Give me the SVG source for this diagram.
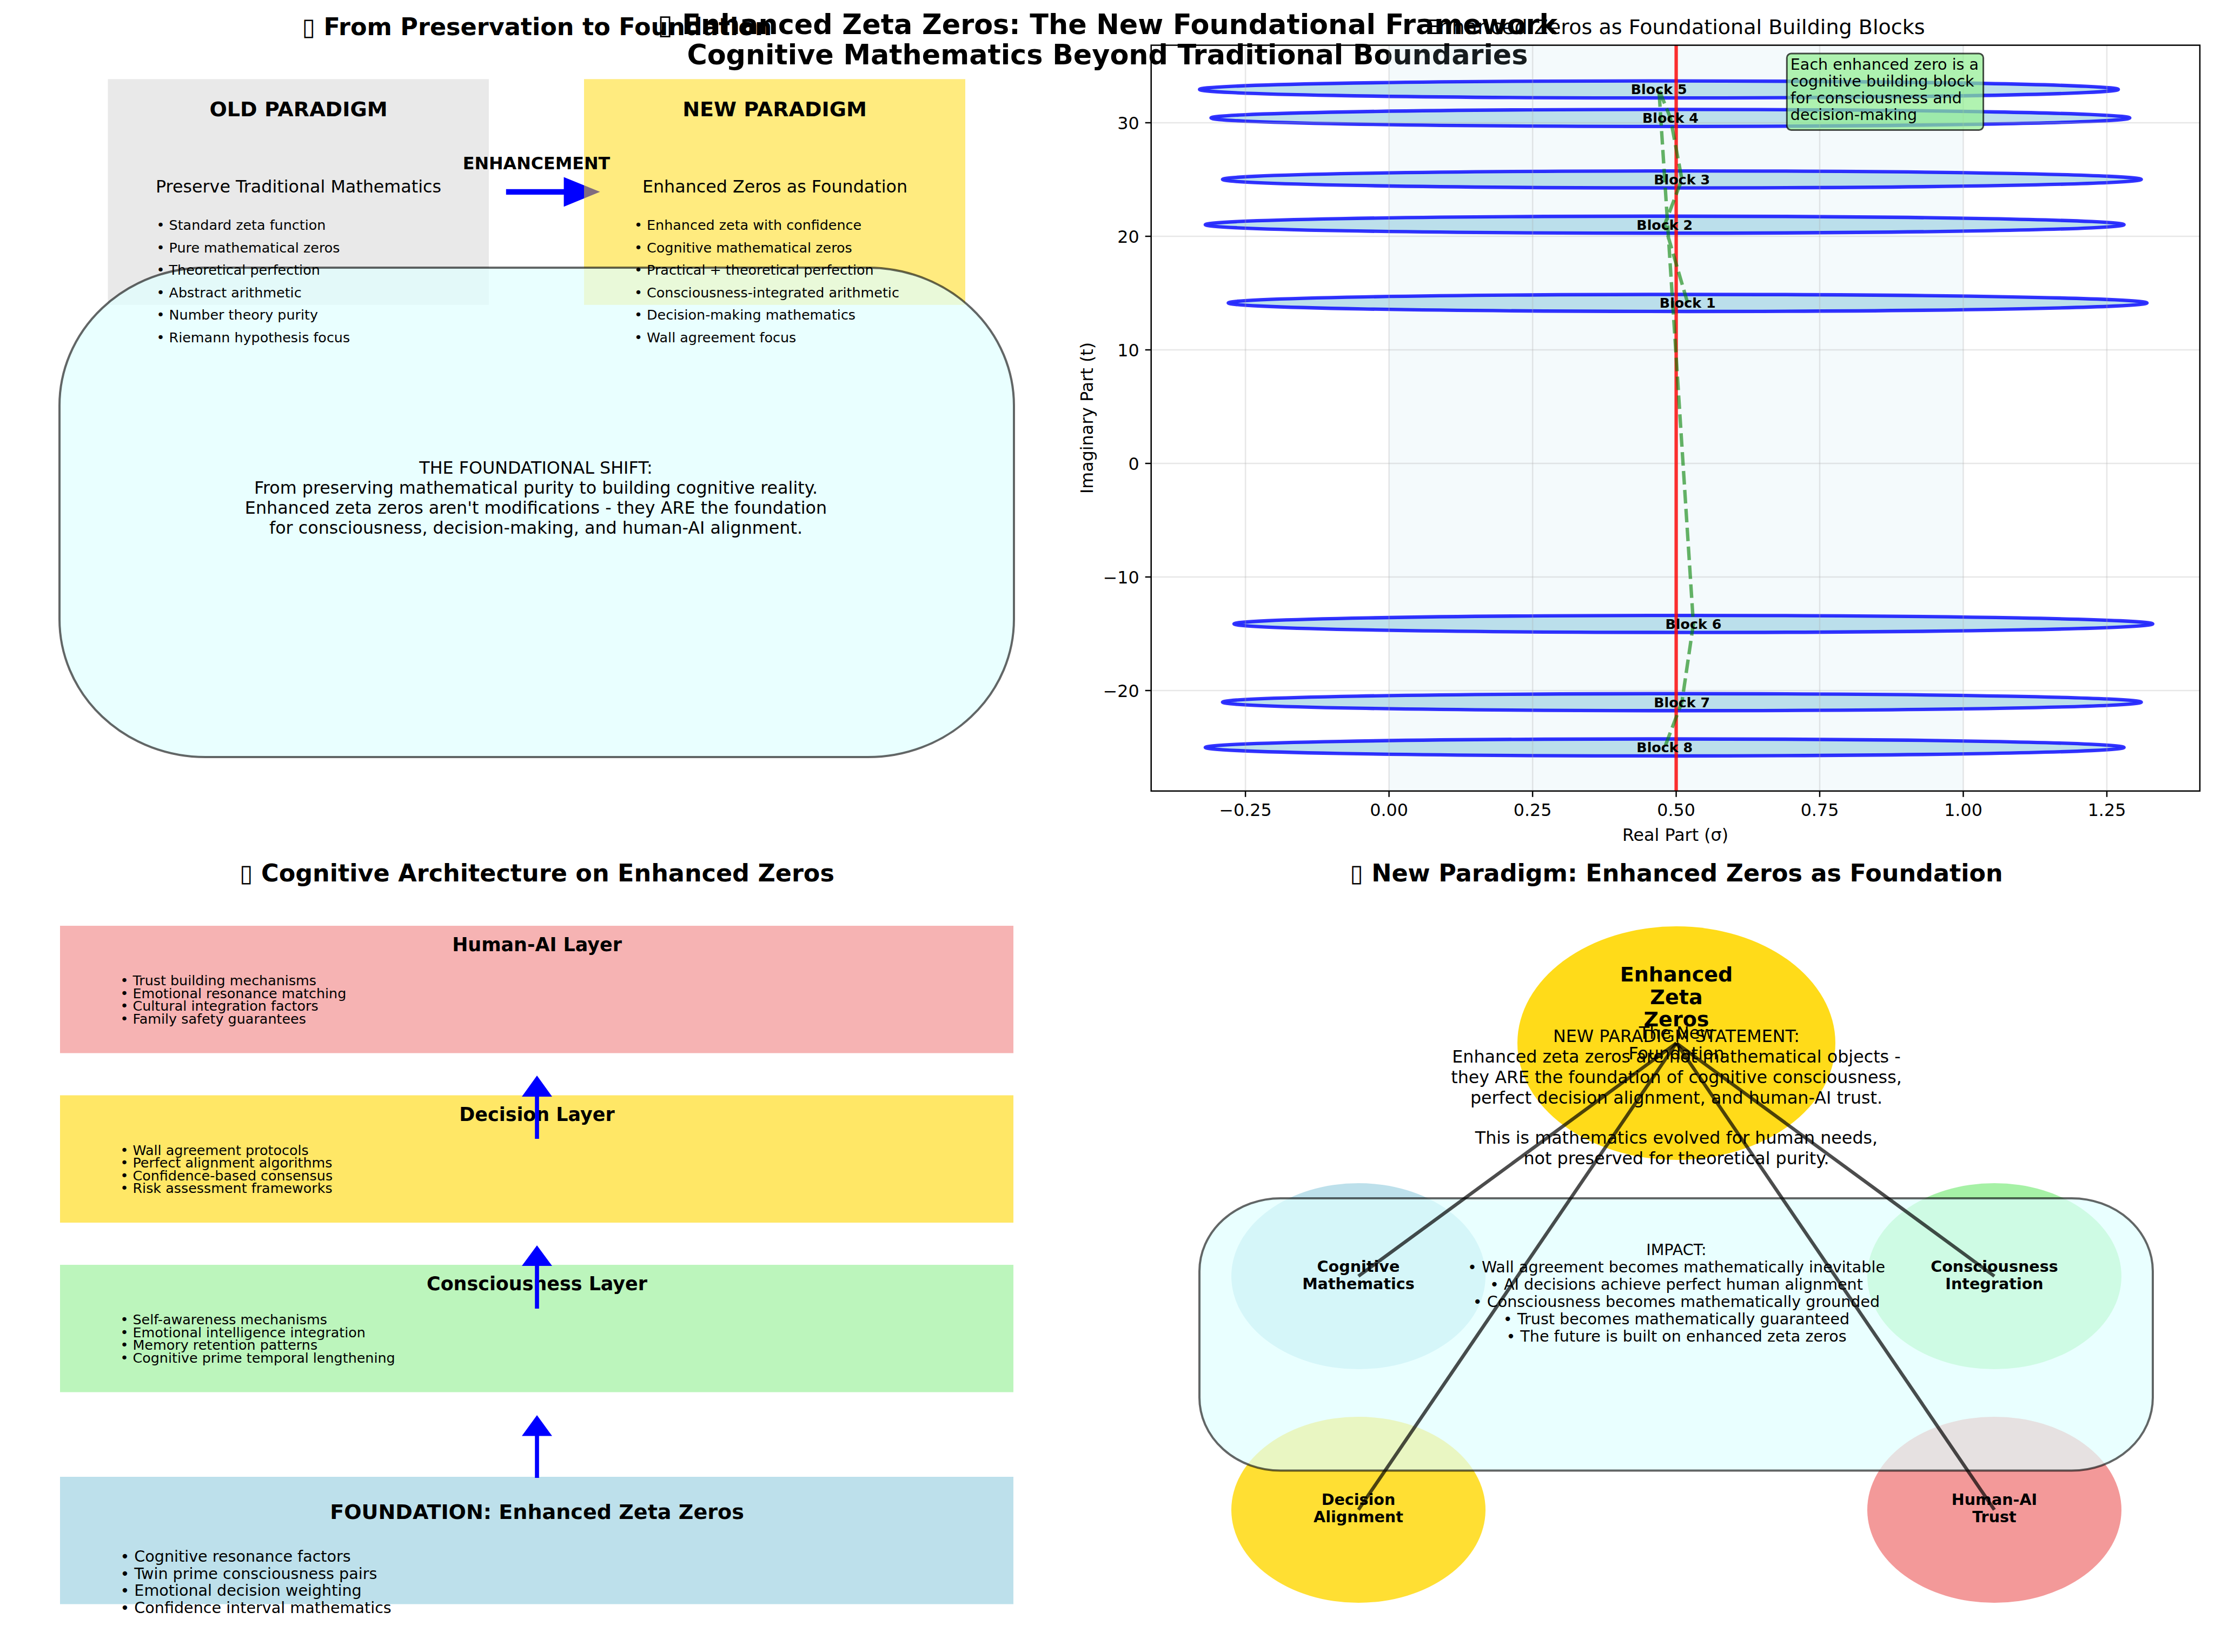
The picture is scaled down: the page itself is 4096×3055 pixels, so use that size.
<svg xmlns="http://www.w3.org/2000/svg" width="4096" height="3055" viewBox="0 0 4096 3055">
<style>
text{font-family:"DejaVu Sans","Liberation Sans",sans-serif;fill:#000}
.b{font-weight:bold}
.m{text-anchor:middle}
.e{text-anchor:end}
.f51{font-size:50.8px}
.f44{font-size:44.5px}
.f38{font-size:38.1px}
.f35{font-size:34.9px}
.f32{font-size:31.75px}
.f29{font-size:28.6px}
.f25{font-size:25.4px}
.grid{stroke:#b0b0b0;stroke-opacity:0.3;stroke-width:2.5}
.tick{stroke:#000;stroke-width:2.5}
.blk{fill:#add8e6;fill-opacity:0.8;stroke:#0000ff;stroke-opacity:0.8;stroke-width:6.35}
.conn{stroke:#000;stroke-opacity:0.7;stroke-width:6.35;fill:none}
.arr{fill:#0000ff}
.rbox{fill:#e0ffff;fill-opacity:0.7;stroke:#000;stroke-opacity:0.6;stroke-width:4}
</style>
<rect width="4096" height="3055" fill="#fff"/>

<g id="main-title">
<text class="b m f51" x="2048" y="63">▯ Enhanced Zeta Zeros: The New Foundational Framework</text>
<text class="b m f51" x="2048" y="119">Cognitive Mathematics Beyond Traditional Boundaries</text>
</g>

<!-- ============ TOP LEFT ============ -->
<g id="panel-preservation">
<text class="b m f44" x="993" y="65">▯ From Preservation to Foundation</text>
<path id="enhancement-arrow" class="arr" d="M935.8,349.7 H1042.6 V327.4 L1109.6,354.8 L1042.6,382.2 V359.9 H935.8 Z"/>
<g id="old-paradigm">
<rect x="199.5" y="146.3" width="704.5" height="417.5" fill="#d3d3d3" fill-opacity="0.5"/>
</g>
<g id="new-paradigm">
<rect x="1080" y="146.3" width="705" height="417.5" fill="#ffd700" fill-opacity="0.5"/>
</g>
<g id="shift-box">
<rect class="rbox" x="110" y="495" width="1765" height="905" rx="270" ry="255"/>
</g>
<text class="b m f38" x="552" y="215">OLD PARADIGM</text>
<text class="b m f38" x="1432.5" y="215">NEW PARADIGM</text>
<text class="b m f32" x="992" y="313">ENHANCEMENT</text>
<text class="m f32" x="552" y="356">Preserve Traditional Mathematics</text>
<text class="m f32" x="1433" y="356">Enhanced Zeros as Foundation</text>
<g class="f25">
<text x="289.5" y="425">• Standard zeta function</text>
<text x="289.5" y="466.5">• Pure mathematical zeros</text>
<text x="289.5" y="508">• Theoretical perfection</text>
<text x="289.5" y="549.5">• Abstract arithmetic</text>
<text x="289.5" y="591">• Number theory purity</text>
<text x="289.5" y="632.5">• Riemann hypothesis focus</text>
<text x="1173" y="425">• Enhanced zeta with confidence</text>
<text x="1173" y="466.5">• Cognitive mathematical zeros</text>
<text x="1173" y="508">• Practical + theoretical perfection</text>
<text x="1173" y="549.5">• Consciousness-integrated arithmetic</text>
<text x="1173" y="591">• Decision-making mathematics</text>
<text x="1173" y="632.5">• Wall agreement focus</text>
</g>
<g class="m f32">
<text x="991" y="876">THE FOUNDATIONAL SHIFT:</text>
<text x="991" y="913">From preserving mathematical purity to building cognitive reality.</text>
<text x="991" y="950">Enhanced zeta zeros aren't modifications - they ARE the foundation</text>
<text x="991" y="987">for consciousness, decision-making, and human-AI alignment.</text>
</g>
</g>

<!-- ============ TOP RIGHT (chart) ============ -->
<g id="panel-chart">
<text class="m f38" x="3098" y="63">Enhanced Zeros as Foundational Building Blocks</text>
<rect x="2568.6" y="83.6" width="1061.9" height="1379.2" fill="#add8e6" fill-opacity="0.13"/>
<g id="blocks">
<g id="block-5"><ellipse class="blk" cx="3067.7" cy="165.4" rx="849.5" ry="15.75"/></g>
<g id="block-4"><ellipse class="blk" cx="3088.9" cy="218.1" rx="849.5" ry="15.75"/></g>
<g id="block-3"><ellipse class="blk" cx="3110.2" cy="331.8" rx="849.5" ry="15.75"/></g>
<g id="block-2"><ellipse class="blk" cx="3078.3" cy="415.5" rx="849.5" ry="15.75"/></g>
<g id="block-1"><ellipse class="blk" cx="3120.8" cy="560.2" rx="849.5" ry="15.75"/></g>
<g id="block-6"><ellipse class="blk" cx="3131.4" cy="1153.8" rx="849.5" ry="15.75"/></g>
<g id="block-7"><ellipse class="blk" cx="3110.2" cy="1298.5" rx="849.5" ry="15.75"/></g>
<g id="block-8"><ellipse class="blk" cx="3078.3" cy="1382.2" rx="849.5" ry="15.75"/></g>
</g>
<g id="grid">
<line class="grid" x1="2303.1" y1="83.6" x2="2303.1" y2="1462.8"/>
<line class="grid" x1="2568.6" y1="83.6" x2="2568.6" y2="1462.8"/>
<line class="grid" x1="2834.1" y1="83.6" x2="2834.1" y2="1462.8"/>
<line class="grid" x1="3099.6" y1="83.6" x2="3099.6" y2="1462.8"/>
<line class="grid" x1="3365" y1="83.6" x2="3365" y2="1462.8"/>
<line class="grid" x1="3630.5" y1="83.6" x2="3630.5" y2="1462.8"/>
<line class="grid" x1="3896" y1="83.6" x2="3896" y2="1462.8"/>
<line class="grid" x1="2128.7" y1="227" x2="4068" y2="227"/>
<line class="grid" x1="2128.7" y1="437" x2="4068" y2="437"/>
<line class="grid" x1="2128.7" y1="647" x2="4068" y2="647"/>
<line class="grid" x1="2128.7" y1="857" x2="4068" y2="857"/>
<line class="grid" x1="2128.7" y1="1067" x2="4068" y2="1067"/>
<line class="grid" x1="2128.7" y1="1277" x2="4068" y2="1277"/>
</g>
<line x1="3099.6" y1="83.6" x2="3099.6" y2="1462.8" stroke="#ff0000" stroke-opacity="0.8" stroke-width="6.35"/>
<polyline points="3120.8,560.2 3078.3,415.5 3110.2,331.8 3088.9,218.1 3067.7,165.4 3131.4,1153.8 3110.2,1298.5 3078.3,1382.2" fill="none" stroke="#008000" stroke-opacity="0.6" stroke-width="6.35" stroke-dasharray="25,10"/>
<g class="b m f25">
<text x="3067.7" y="174.4">Block 5</text>
<text x="3088.9" y="227.1">Block 4</text>
<text x="3110.2" y="340.8">Block 3</text>
<text x="3078.3" y="424.5">Block 2</text>
<text x="3120.8" y="569.2">Block 1</text>
<text x="3131.4" y="1162.8">Block 6</text>
<text x="3110.2" y="1307.5">Block 7</text>
<text x="3078.3" y="1391.2">Block 8</text>
</g>
<g id="annotation">
<rect x="3304.3" y="99" width="363.3" height="141.5" rx="8" fill="#90ee90" fill-opacity="0.7" stroke="#000" stroke-opacity="0.7" stroke-width="3"/>
<text class="f29" x="3310.8" y="129">Each enhanced zero is a</text>
<text class="f29" x="3310.8" y="160">cognitive building block</text>
<text class="f29" x="3310.8" y="191">for consciousness and</text>
<text class="f29" x="3310.8" y="222">decision-making</text>
</g>
<rect x="2128.7" y="83.6" width="1939.3" height="1379.2" fill="none" stroke="#000" stroke-width="2.5"/>
<g id="ticks">
<line class="tick" x1="2303.1" y1="1462.8" x2="2303.1" y2="1473.8"/>
<line class="tick" x1="2568.6" y1="1462.8" x2="2568.6" y2="1473.8"/>
<line class="tick" x1="2834.1" y1="1462.8" x2="2834.1" y2="1473.8"/>
<line class="tick" x1="3099.6" y1="1462.8" x2="3099.6" y2="1473.8"/>
<line class="tick" x1="3365" y1="1462.8" x2="3365" y2="1473.8"/>
<line class="tick" x1="3630.5" y1="1462.8" x2="3630.5" y2="1473.8"/>
<line class="tick" x1="3896" y1="1462.8" x2="3896" y2="1473.8"/>
<line class="tick" x1="2117.7" y1="227" x2="2128.7" y2="227"/>
<line class="tick" x1="2117.7" y1="437" x2="2128.7" y2="437"/>
<line class="tick" x1="2117.7" y1="647" x2="2128.7" y2="647"/>
<line class="tick" x1="2117.7" y1="857" x2="2128.7" y2="857"/>
<line class="tick" x1="2117.7" y1="1067" x2="2128.7" y2="1067"/>
<line class="tick" x1="2117.7" y1="1277" x2="2128.7" y2="1277"/>
</g>
<g class="m f32">
<text x="2303.1" y="1509">−0.25</text>
<text x="2568.6" y="1509">0.00</text>
<text x="2834.1" y="1509">0.25</text>
<text x="3099.6" y="1509">0.50</text>
<text x="3365" y="1509">0.75</text>
<text x="3630.5" y="1509">1.00</text>
<text x="3896" y="1509">1.25</text>
</g>
<g class="e f32">
<text x="2106.7" y="238.5">30</text>
<text x="2106.7" y="448.5">20</text>
<text x="2106.7" y="658.5">10</text>
<text x="2106.7" y="868.5">0</text>
<text x="2106.7" y="1078.5">−10</text>
<text x="2106.7" y="1288.5">−20</text>
</g>
<text class="m f32" x="3098" y="1555">Real Part (σ)</text>
<text class="m f32" transform="translate(2021,773) rotate(-90)" x="0" y="0">Imaginary Part (t)</text>
</g>

<!-- ============ BOTTOM LEFT ============ -->
<g id="panel-architecture">
<text class="b m f44" x="993" y="1630">▯ Cognitive Architecture on Enhanced Zeros</text>
<g id="layer-human-ai">
<rect x="111" y="1712" width="1763" height="235.5" fill="#f08080" fill-opacity="0.6"/>
<text class="b m f35" x="993" y="1759">Human-AI Layer</text>
<g class="f25">
<text x="222.4" y="1822">• Trust building mechanisms</text>
<text x="222.4" y="1845.6">• Emotional resonance matching</text>
<text x="222.4" y="1869.2">• Cultural integration factors</text>
<text x="222.4" y="1892.8">• Family safety guarantees</text>
</g>
</g>
<g id="layer-decision">
<rect x="111" y="2025.5" width="1763" height="235.5" fill="#ffd700" fill-opacity="0.6"/>
<text class="b m f35" x="993" y="2072.5">Decision Layer</text>
<g class="f25">
<text x="222.4" y="2135.5">• Wall agreement protocols</text>
<text x="222.4" y="2159.1">• Perfect alignment algorithms</text>
<text x="222.4" y="2182.7">• Confidence-based consensus</text>
<text x="222.4" y="2206.3">• Risk assessment frameworks</text>
</g>
</g>
<g id="layer-consciousness">
<rect x="111" y="2339" width="1763" height="235.5" fill="#90ee90" fill-opacity="0.6"/>
<text class="b m f35" x="993" y="2386">Consciousness Layer</text>
<g class="f25">
<text x="222.4" y="2449">• Self-awareness mechanisms</text>
<text x="222.4" y="2472.6">• Emotional intelligence integration</text>
<text x="222.4" y="2496.2">• Memory retention patterns</text>
<text x="222.4" y="2519.8">• Cognitive prime temporal lengthening</text>
</g>
</g>
<g id="layer-foundation">
<rect x="111" y="2731" width="1763" height="235.5" fill="#add8e6" fill-opacity="0.8"/>
<text class="b m f38" x="993" y="2809">FOUNDATION: Enhanced Zeta Zeros</text>
<g class="f29">
<text x="222.4" y="2888">• Cognitive resonance factors</text>
<text x="222.4" y="2919.5">• Twin prime consciousness pairs</text>
<text x="222.4" y="2951">• Emotional decision weighting</text>
<text x="222.4" y="2982.5">• Confidence interval mathematics</text>
</g>
</g>
<g id="layer-arrows">
<path class="arr" d="M989.2,2106 V2028 H965 L993,1989 L1021,2028 H996.8 V2106 Z"/>
<path class="arr" d="M989.2,2420 V2341 H965 L993,2303 L1021,2341 H996.8 V2420 Z"/>
<path class="arr" d="M989.2,2733 V2655.6 H965 L993,2617 L1021,2655.6 H996.8 V2733 Z"/>
</g>
</g>

<!-- ============ BOTTOM RIGHT ============ -->
<g id="panel-paradigm">
<text class="b m f44" x="3100" y="1630">▯ New Paradigm: Enhanced Zeros as Foundation</text>
<g id="node-center"><ellipse cx="3100" cy="1929" rx="294" ry="216" fill="#ffd700" fill-opacity="0.9"/></g>
<g id="node-cognitive"><ellipse cx="2512" cy="2360" rx="235" ry="172" fill="#add8e6" fill-opacity="0.8"/></g>
<g id="node-consciousness"><ellipse cx="3688" cy="2360" rx="235" ry="172" fill="#90ee90" fill-opacity="0.8"/></g>
<g id="node-decision"><ellipse cx="2512" cy="2792" rx="235" ry="172" fill="#ffd700" fill-opacity="0.8"/></g>
<g id="node-human-ai"><ellipse cx="3688" cy="2792" rx="235" ry="172" fill="#f08080" fill-opacity="0.8"/></g>
<g id="impact-box"><rect class="rbox" x="2218" y="2216" width="1763" height="503.5" rx="150" ry="135"/></g>
<g id="connectors">
<line class="conn" x1="3100" y1="1929" x2="2512" y2="2360"/>
<line class="conn" x1="3100" y1="1929" x2="3688" y2="2360"/>
<line class="conn" x1="3100" y1="1929" x2="2512" y2="2792"/>
<line class="conn" x1="3100" y1="1929" x2="3688" y2="2792"/>
</g>
<g class="b m f38">
<text x="3100" y="1815">Enhanced</text>
<text x="3100" y="1856.5">Zeta</text>
<text x="3100" y="1898">Zeros</text>
</g>
<g class="m f32">
<text x="3100" y="1921">The New</text>
<text x="3100" y="1958.5">Foundation</text>
</g>
<g class="b m f29">
<text x="2512" y="2351.6">Cognitive</text>
<text x="2512" y="2383.6">Mathematics</text>
<text x="3688" y="2351.6">Consciousness</text>
<text x="3688" y="2383.6">Integration</text>
<text x="2512" y="2783.4">Decision</text>
<text x="2512" y="2815.4">Alignment</text>
<text x="3688" y="2783.4">Human-AI</text>
<text x="3688" y="2815.4">Trust</text>
</g>
<g class="m f32">
<text x="3100" y="1927">NEW PARADIGM STATEMENT:</text>
<text x="3100" y="1965">Enhanced zeta zeros are not mathematical objects -</text>
<text x="3100" y="2003">they ARE the foundation of cognitive consciousness,</text>
<text x="3100" y="2041">perfect decision alignment, and human-AI trust.</text>
<text x="3100" y="2115">This is mathematics evolved for human needs,</text>
<text x="3100" y="2153">not preserved for theoretical purity.</text>
</g>
<g class="m f29">
<text x="3100" y="2321">IMPACT:</text>
<text x="3100" y="2353">• Wall agreement becomes mathematically inevitable</text>
<text x="3100" y="2385">• AI decisions achieve perfect human alignment</text>
<text x="3100" y="2417">• Consciousness becomes mathematically grounded</text>
<text x="3100" y="2449">• Trust becomes mathematically guaranteed</text>
<text x="3100" y="2481">• The future is built on enhanced zeta zeros</text>
</g>
</g>
</svg>
